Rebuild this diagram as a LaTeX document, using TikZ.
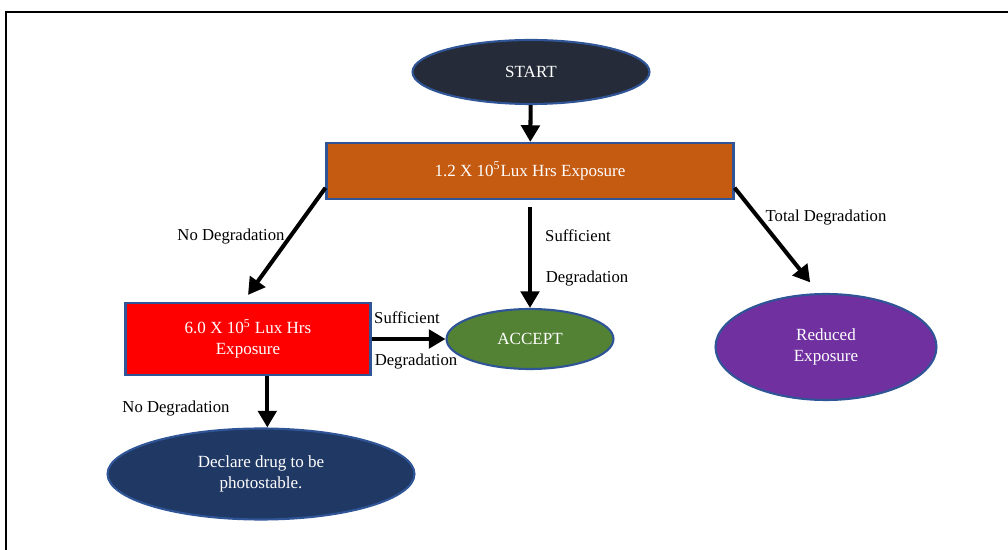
\documentclass[tikz,border=0pt]{standalone}
\usepackage{fontspec}
\setmainfont{Liberation Serif}
\usepackage{tikz}
\usetikzlibrary{shapes.geometric, arrows.meta, positioning, calc}

\definecolor{edgeblue}{RGB}{47,85,151}
\definecolor{startdark}{RGB}{37,43,56}
\definecolor{luxorange}{RGB}{197,90,17}
\definecolor{acceptgreen}{RGB}{84,130,53}
\definecolor{reducedpurple}{RGB}{112,48,160}
\definecolor{declareblue}{RGB}{32,56,100}

\begin{document}
\begin{tikzpicture}[
        x=0.02cm, y=-0.02cm,
        every node/.style={font=\fontsize{9.7}{12}\selectfont},
        terminal/.style={ellipse, draw=edgeblue, line width=1.2pt, text=white, inner sep=0pt, align=center},
        process/.style={rectangle, draw=edgeblue, line width=1.2pt, text=white, inner sep=0pt, align=center},
        note/.style={inner sep=1pt, font=\fontsize{9.5}{12}\selectfont},
        arrow/.style={-{Triangle[length=9.5pt, width=10.5pt]}, line width=2.3pt, black}
    ]
        \useasboundingbox (0,0) rectangle (1008,550);
        % frame
        \draw[line width=1.2pt] (6,550) -- (6,12) -- (1008,12);

        \node[terminal, fill=startdark, minimum width=4.74cm, minimum height=1.28cm] (start) at (531,72) {START};
        \node[process, fill=luxorange, minimum width=8.14cm, minimum height=1.12cm] (lux) at (530,171) {1.2 X 10\textsuperscript{5}Lux Hrs Exposure};
        \node[process, fill=red, minimum width=4.9cm, minimum height=1.44cm] (six) at (248,339) {6.0 X 10\textsuperscript{5} Lux Hrs\\Exposure};
        \node[terminal, fill=acceptgreen, minimum width=3.34cm, minimum height=1.2cm] (acc) at (530,339) {ACCEPT};
        \node[terminal, fill=reducedpurple, minimum width=4.42cm, minimum height=2.12cm] (red) at (826,347) {Reduced\\Exposure};
        \node[terminal, fill=declareblue, minimum width=6.14cm, minimum height=1.82cm] (decl) at (261,474) {Declare drug to be\\photostable.};

        \draw[arrow] (start) -- (lux);
        \draw[arrow] ([yshift=7pt]lux.south west) -- ([yshift=4pt]six.north);
        \draw[arrow] ([yshift=-4pt]lux.south) -- (acc.north);
        \draw[arrow] ([yshift=7pt]lux.south east) -- ([xshift=-9pt,yshift=6pt]red.north);
        \draw[arrow] (six.east) -- (six.east -| acc.west);
        \draw[arrow] ([xshift=11pt]six.south) -- ([xshift=11pt]six.south |- decl.north);

        \node[note] (nodeg1) at (231,237) {No Degradation};
        \node[note] (suff1) at (578,236) {Sufficient};
        \node[note] (degr1) at (587,279) {Degradation};
        \node[note] (total) at (826,218) {Total Degradation};
        \node[note] (suff2) at (407,318) {Sufficient};
        \node[note] (degr2) at (416,362) {Degradation};
        \node[note] (nodeg2) at (176,409) {No Degradation};
    \end{tikzpicture}
\end{document}
